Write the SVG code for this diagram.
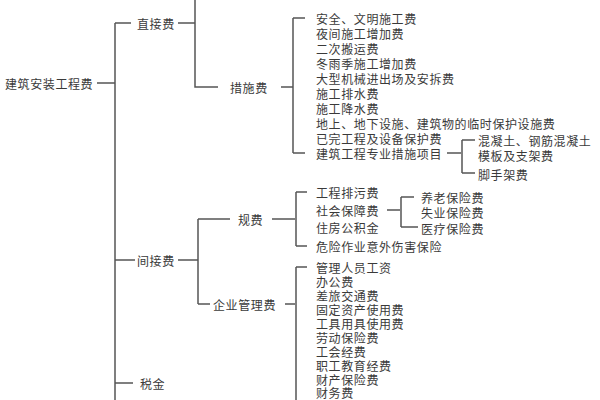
<svg xmlns="http://www.w3.org/2000/svg" width="600" height="400" viewBox="0 0 600 400">
<style>
text{font-family:"Noto Sans CJK SC",sans-serif;font-size:12px;letter-spacing:0.6px;fill:#3a3a3a;dominant-baseline:central}
.c path{fill:none;stroke:#555;stroke-width:1.5}
</style>
<rect width="600" height="400" fill="#fff"/>
<g class="c" id="connectors">
<path d="M97 83H115M115 23V400M115 23H131M178 23H195M195 -2V87H218M281 87H293M293 18V153M293 18H305M293 153H305"/>
<path d="M447 153H461M462 140V173M462 140H475M462 173H475"/>
<path d="M115 260H135M178 260H198M198 219V304M198 219H230M198 304H210M272 219H295M296 192V246M296 192H307M296 246H307M387 210H400M401 197V227M401 197H414M401 227H418"/>
<path d="M285 304H295M296 267V400M296 267H307M115 383H133"/>
</g>
<g id="root"><text x="5" y="83">建筑安装工程费</text></g>
<g id="zj"><text x="137" y="23">直接费</text></g>
<g id="cs"><text x="230" y="87">措施费</text></g>
<g id="cs-items">
<text x="316" y="18">安全、文明施工费</text>
<text x="316" y="33">夜间施工增加费</text>
<text x="316" y="48">二次搬运费</text>
<text x="316" y="63">冬雨季施工增加费</text>
<text x="316" y="78">大型机械进出场及安拆费</text>
<text x="316" y="93">施工排水费</text>
<text x="316" y="108">施工降水费</text>
<text x="316" y="123">地上、地下设施、建筑物的临时保护设施费</text>
<text x="316" y="138">已完工程及设备保护费</text>
<text x="316" y="153">建筑工程专业措施项目</text>
</g>
<g id="zy-items">
<text x="478" y="140">混凝土、钢筋混凝土</text>
<text x="478" y="155">模板及支架费</text>
<text x="478" y="174">脚手架费</text>
</g>
<g id="jj"><text x="137" y="260">间接费</text></g>
<g id="gf"><text x="238" y="219">规费</text></g>
<g id="gf-items">
<text x="316" y="192">工程排污费</text>
<text x="316" y="210">社会保障费</text>
<text x="316" y="227">住房公积金</text>
<text x="316" y="246">危险作业意外伤害保险</text>
</g>
<g id="sb-items">
<text x="421" y="197">养老保险费</text>
<text x="421" y="212">失业保险费</text>
<text x="421" y="228">医疗保险费</text>
</g>
<g id="qy"><text x="213" y="304">企业管理费</text></g>
<g id="qy-items">
<text x="316" y="267">管理人员工资</text>
<text x="316" y="281">办公费</text>
<text x="316" y="295">差旅交通费</text>
<text x="316" y="309">固定资产使用费</text>
<text x="316" y="323">工具用具使用费</text>
<text x="316" y="337">劳动保险费</text>
<text x="316" y="351">工会经费</text>
<text x="316" y="365">职工教育经费</text>
<text x="316" y="379">财产保险费</text>
<text x="316" y="392">财务费</text>
</g>
<g id="sj"><text x="140" y="383">税金</text></g>
</svg>
